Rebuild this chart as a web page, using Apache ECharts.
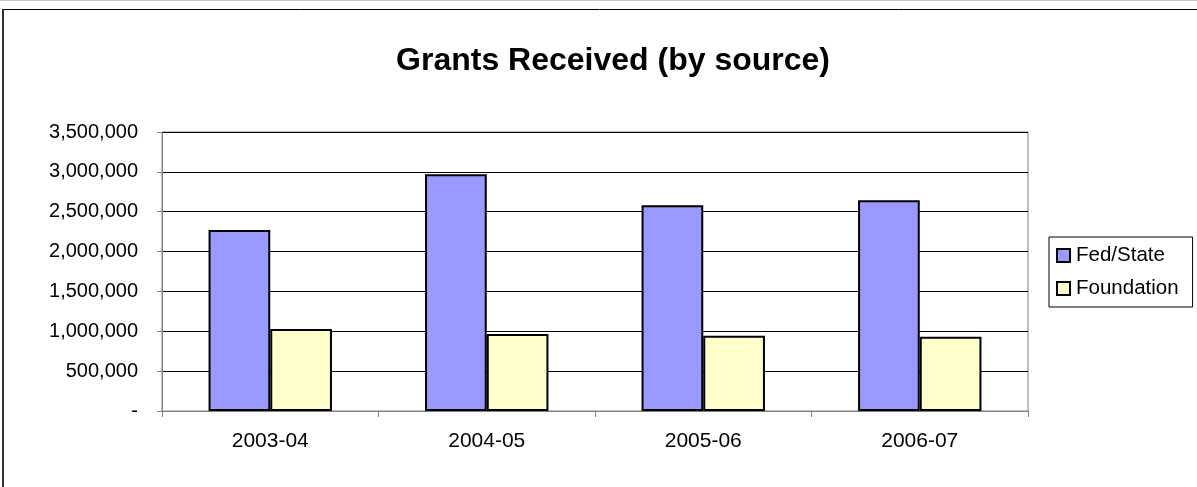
<!DOCTYPE html>
<html>
<head>
<meta charset="utf-8">
<script src="https://cdn.jsdelivr.net/npm/echarts@6/dist/echarts.min.js"></script>
<style>
html,body{margin:0;padding:0;background:#fff;}
#chart{width:1197px;height:487px;}
</style>
</head>
<body>
<div id="chart"></div>
<script>
const categories = ['2003-04', '2004-05', '2005-06', '2006-07'];
const fedState = [2270000, 2970000, 2580000, 2645000];
const foundation = [1030000, 965000, 945000, 930000];
const seriesNames = ['Fed/State', 'Foundation'];

const FONT = '"Liberation Sans", Arial, sans-serif';
const chart = echarts.init(document.getElementById('chart'), null, {renderer: 'canvas'});

function fmt(v) {
  if (v === 0) return '-';
  return v.toString().replace(/\B(?=(\d{3})+(?!\d))/g, ',');
}

chart.setOption({
  animation: false,
  backgroundColor: '#fff',
  title: {
    text: 'Grants Received (by source)',
    left: 608, textAlign: 'center',
    top: 40,
    textStyle: {fontFamily: FONT, fontSize: 32, fontWeight: 'bold', color: '#000'}
  },
  legend: {
    orient: 'vertical',
    left: 1049, top: 237,
    padding: [8, 14, 8, 7],
    itemGap: 12,
    itemWidth: 13, itemHeight: 13,
    borderColor: '#000', borderWidth: 1,
    icon: 'rect',
    textStyle: {fontFamily: FONT, fontSize: 20.5, color: '#000', padding: [0, 0, 0, 1]},
    data: seriesNames
  },
  grid: {left: 162, right: 169, top: 132, bottom: 76, show: true, borderColor: '#808080', borderWidth: 1, containLabel: false},
  xAxis: {
    type: 'category',
    data: categories,
    boundaryGap: true,
    axisLine: {lineStyle: {color: '#808080', width: 1}},
    axisTick: {show: true, length: 6, inside: false, alignWithLabel: false, lineStyle: {color: '#808080'}},
    axisLabel: {fontFamily: FONT, fontSize: 21, color: '#000', margin: 20},
    splitLine: {show: false}
  },
  yAxis: {
    type: 'value',
    min: 0, max: 3500000, interval: 500000,
    axisLine: {show: true, lineStyle: {color: '#808080', width: 1}},
    axisTick: {show: true, length: 5, lineStyle: {color: '#808080'}},
    axisLabel: {fontFamily: FONT, fontSize: 20, color: '#000', margin: 24, formatter: fmt},
    splitLine: {show: true, lineStyle: {color: '#000', width: 1}}
  },
  series: [
    {
      name: seriesNames[0], type: 'bar', data: fedState,
      barGap: '0%', barCategoryGap: '43%',
      itemStyle: {color: '#9999FF', borderColor: '#000', borderWidth: 2}
    },
    {
      name: seriesNames[1], type: 'bar', data: foundation,
      barGap: '0%', barCategoryGap: '43%',
      itemStyle: {color: '#FFFFCC', borderColor: '#000', borderWidth: 2}
    }
  ],
  graphic: [
    {type: 'line', shape: {x1: 0, y1: 0.5, x2: 1197, y2: 0.5}, style: {stroke: '#c8c8c8', lineWidth: 1}},
    {type: 'line', shape: {x1: 2, y1: 9.5, x2: 1197, y2: 9.5}, style: {stroke: '#000', lineWidth: 1}},
    {type: 'line', shape: {x1: 3, y1: 9, x2: 3, y2: 487}, style: {stroke: '#333', lineWidth: 2}}
  ]
});
</script>
</body>
</html>
